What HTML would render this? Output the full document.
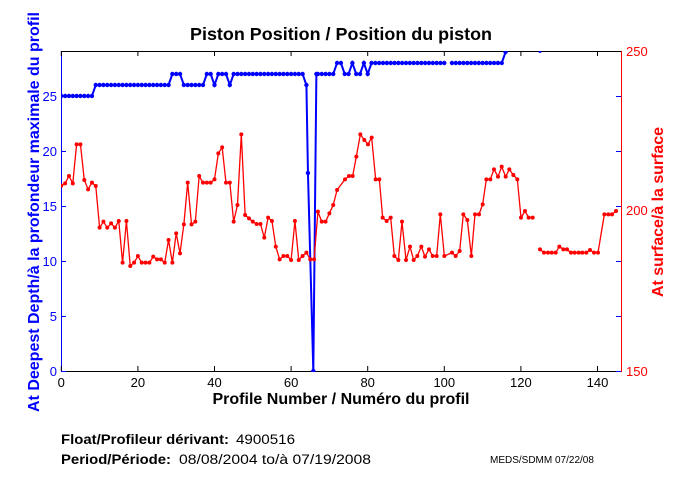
<!DOCTYPE html><html><head><meta charset="utf-8"><style>body{margin:0;background:#fff}svg{display:block;font-family:"Liberation Sans",sans-serif}</style></head><body>
<svg id="s" width="680" height="500" xmlns="http://www.w3.org/2000/svg">
<defs><clipPath id="c"><rect x="61" y="51" width="560.5" height="321"/></clipPath></defs>
<text x="341" y="40" text-anchor="middle" font-size="17.5" font-weight="bold" textLength="302" lengthAdjust="spacingAndGlyphs">Piston Position / Position du piston</text>
<g id="ax" stroke="#000" stroke-width="1" fill="none"></g>
<g id="data" clip-path="url(#c)"></g>
<g font-size="13" fill="#000" text-anchor="middle" id="xl"></g>
<g font-size="13" fill="#0000ff" text-anchor="end" id="yl"></g>
<g font-size="13" fill="#ff0000" text-anchor="start">
<text x="626" y="56">250</text><text x="626" y="215">200</text><text x="626" y="376">150</text></g>
<text x="341" y="404" text-anchor="middle" font-size="16" font-weight="bold" textLength="257" lengthAdjust="spacingAndGlyphs">Profile Number / Numéro du profil</text>
<text transform="translate(39,212) rotate(-90)" text-anchor="middle" font-size="15.5" font-weight="bold" fill="#0000ff" textLength="400" lengthAdjust="spacingAndGlyphs">At Deepest Depth/à la profondeur maximale du profil</text>
<text transform="translate(663,212) rotate(-90)" text-anchor="middle" font-size="15.5" font-weight="bold" fill="#ff0000" textLength="170" lengthAdjust="spacingAndGlyphs">At surface/à la surface</text>
<text x="61" y="444" font-size="13.5" font-weight="bold" textLength="168" lengthAdjust="spacingAndGlyphs">Float/Profileur dérivant:</text><text x="236" y="444" font-size="13.5" textLength="59" lengthAdjust="spacingAndGlyphs">4900516</text>
<text x="61" y="464" font-size="13.5" font-weight="bold" textLength="110" lengthAdjust="spacingAndGlyphs">Period/Période:</text><text x="179" y="464" font-size="13.5" textLength="192" lengthAdjust="spacingAndGlyphs">08/08/2004  to/à  07/19/2008</text>
<text x="490" y="463" font-size="10">MEDS/SDMM  07/22/08</text>
</svg>
<script>
var NS="http://www.w3.org/2000/svg";
function el(p,n,a){var e=document.createElementNS(NS,n);for(var k in a)e.setAttribute(k,a[k]);p.appendChild(e);return e;}
var ax=document.getElementById('ax'),d=document.getElementById('data'),xl=document.getElementById('xl'),yl=document.getElementById('yl');
function X(i){return 61.3+3.83*i;}
el(ax,'line',{x1:61,y1:51.5,x2:621,y2:51.5});
el(ax,'line',{x1:61,y1:371.5,x2:621,y2:371.5});
el(ax,'line',{x1:61.5,y1:51,x2:61.5,y2:372,stroke:'#0000ff'});
el(ax,'line',{x1:621.5,y1:51,x2:621.5,y2:372,stroke:'#ff0000'});
for(var t=0;t<=140;t+=20){var x=X(t);el(ax,'line',{x1:x,y1:371,x2:x,y2:366});el(ax,'line',{x1:x,y1:51,x2:x,y2:56});var tx=el(xl,'text',{x:x,y:387});tx.textContent=t;}
for(var v=0;v<=25;v+=5){var y=371-11*v;el(ax,'line',{x1:61,y1:y+.5,x2:66,y2:y+.5,stroke:'#0000ff'});el(ax,'line',{x1:616,y1:y+.5,x2:621,y2:y+.5,stroke:'#0000ff'});var ty=el(yl,'text',{x:57,y:y+5});ty.textContent=v;}
var r1=[437,430,408,430,313,313,420,448,428,438,563,545,563,550,563,543,668,543,678,668,648,668,668,668,650,658,658,668,600,668,580,640,553,428,553,545,408,428,428,428,418,340,322,428,428,545,495,283,525,535,545,552,552,593,533,543,620,658,648,648,660,543,660,648,638,658,658,515,545,545,520,495,450];
var pts=[];for(var i=0;i<r1.length;i++)pts.push([X(i),40+r1[i]/3]);
var r2=[[45,418],[57,408],[68,408],[79,350],[91,283],[103,300],[114,313],[125,293],[137,418],[148,418],[158,533],[170,543],[182,533],[193,648],[205,660],[216,545],[228,660],[240,620],[251,660],[262,648],[274,620],[285,650],[297,628],[308,648],[320,648],[331,523],[343,648],[366,638],[377,648],[389,633],[400,523],[412,540],[424,648],[435,523],[447,523],[458,493],[469,418],[481,418],[492,388],[504,410],[515,380],[527,410],[538,388],[550,405],[562,418],[573,533],[585,513],[596,533],[608,533]];
var r3=[[630,628],[642,638],[654,638],[665,638],[677,638],[688,620],[700,628],[711,628],[723,638],[734,638],[746,638],[757,638],[769,638],[780,630],[792,638],[804,638],[823,523],[835,523],[846,523],[858,513]];
r2.forEach(function(p){pts.push([330+p[0]/3,40+p[1]/3]);});
var pts2=r3.map(function(p){return [330+p[0]/3,40+p[1]/3];});
function draw(P,col,w,rad){el(d,'polyline',{points:P.map(function(p){return p.join(',')}).join(' '),fill:'none',stroke:col,'stroke-width':w});P.forEach(function(p){el(d,'circle',{cx:p[0],cy:p[1],r:rad,fill:col});});}
var b=[];function add(a,z,v){for(var i=a;i<=z;i++)b.push([X(i),371-11*v]);}
add(0,8,25);add(9,28,26);add(29,31,27);add(32,37,26);add(38,39,27);add(40,40,26);add(41,43,27);add(44,44,26);add(45,63,27);
b.push([X(64),371-11*26]);b.push([X(64.4),371-11*18]);b.push([X(65.8),371]);b.push([X(66.6),371-11*27]);
add(67,71,27);add(72,73,28);add(74,75,27);add(76,76,28);add(77,78,27);add(79,79,28);add(80,80,27);add(81,100,28);
var b2=[];for(var i=102;i<=115;i++)b2.push([X(i),371-11*28]);b2.push([X(116),371-11*29]);b2.push([X(117),371-11*30]);
draw(b,'#0000ff',2,2.2);draw(b2,'#0000ff',2,2.2);
el(d,'circle',{cx:540,cy:51.5,r:1.5,fill:'#0000ff'});
draw(pts,'#ff0000',1.3,2);draw(pts2,'#ff0000',1.3,2);
</script>
</body></html>
